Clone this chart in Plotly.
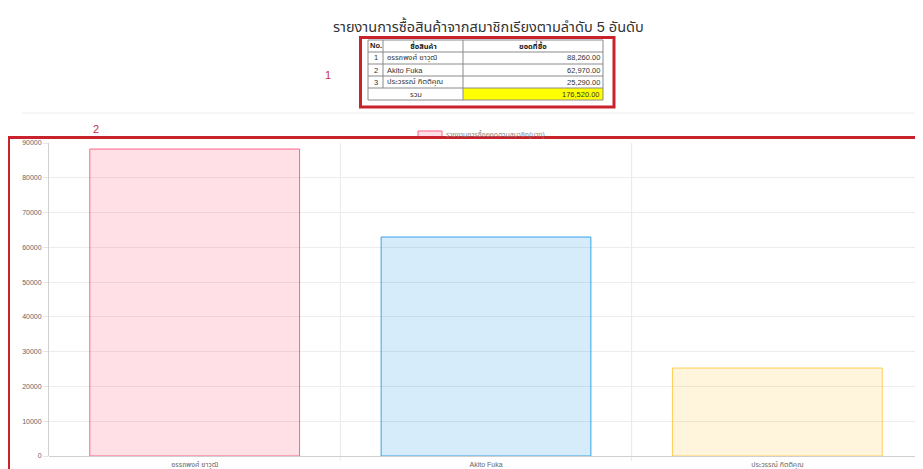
import plotly.graph_objects as go

# ---- data ----
title_text = "รายงานการซื้อสินค้าจากสมาชิกเรียงตามลำดับ 5 อันดับ"
series_name = "รายงานการซื้อยอดตามสมาชิก(บาท)"
ranks = [1, 2, 3]
members = ["อรรถพงศ์ ยาวุฒิ", "Akito Fuka", "ประวรรณ์ กิตติคุณ"]
amounts = [88260, 62970, 25290]
y_ticks = [0, 10000, 20000, 30000, 40000, 50000, 60000, 70000, 80000, 90000]
table_headers = ["No.", "ชื่อสินค้า", "ยอดที่ซื้อ"]
total_label = "รวม"

fill_colors = ["rgba(255,99,132,0.2)", "rgba(54,162,235,0.2)", "rgba(255,206,86,0.2)"]
line_colors = ["rgba(255,99,132,1)", "rgba(54,162,235,1)", "rgba(255,206,86,1)"]

# page is 923x469; the html body has an 8px margin, so the figure is 915x461
OFF = 8
W, H = 923 - OFF, 469 - OFF
FONT = "Arial, 'Liberation Sans', 'Noto Sans Thai', sans-serif"
RED = "rgb(200,35,45)"


def px(x):
    return (x - OFF) / W


def py(y):
    return 1 - (y - OFF) / H


def note(text, x, y, size, color="#222", xanchor="center"):
    return dict(text=text, xref="paper", yref="paper", x=px(x), y=py(y),
                xanchor=xanchor, yanchor="middle", showarrow=False,
                font=dict(family=FONT, size=size, color=color))


fig = go.Figure()

fig.add_trace(go.Bar(
    x=members, y=amounts, name=series_name, width=0.72,
    marker=dict(color=fill_colors, line=dict(color=line_colors, width=1)),
    showlegend=False, hoverinfo="x+y",
))

shapes = []
annotations = []

# ---- summary table (drawn as layout shapes/text from the data lists) ----
col_edges = [368, 383, 463, 603]
row_h = 12
t_top = 40
n_rows = len(members) + 2
row_edges = [t_top + i * row_h for i in range(n_rows + 1)]
total = sum(amounts)
line_style = dict(color="#8a8a8a", width=1)

shapes.append(dict(type="rect", xref="paper", yref="paper",
                   x0=px(col_edges[2]), x1=px(col_edges[3]),
                   y0=py(row_edges[-1]), y1=py(row_edges[-2]),
                   fillcolor="#ffff00", line=dict(width=0), layer="below"))
for yy in row_edges:
    shapes.append(dict(type="line", xref="paper", yref="paper", x0=px(col_edges[0]),
                       x1=px(col_edges[-1]), y0=py(yy), y1=py(yy), line=line_style))
for i, xx in enumerate(col_edges):
    y_end = row_edges[-2] if i == 1 else row_edges[-1]
    shapes.append(dict(type="line", xref="paper", yref="paper", x0=px(xx), x1=px(xx),
                       y0=py(row_edges[0]), y1=py(y_end), line=line_style))

TS = 7.5
for j, h in enumerate(table_headers):
    annotations.append(note(f"<b>{h}</b>", (col_edges[j] + col_edges[j + 1]) / 2,
                            (row_edges[0] + row_edges[1]) / 2, TS))
for i, (r, m, a) in enumerate(zip(ranks, members, amounts)):
    yc = (row_edges[i + 1] + row_edges[i + 2]) / 2
    annotations.append(note(str(r), (col_edges[0] + col_edges[1]) / 2, yc, TS, "#333"))
    annotations.append(note(m, col_edges[1] + 2, yc, TS, "#333", "left"))
    annotations.append(note(f"{a:,.2f}", col_edges[3] - 1, yc, TS, "#333", "right"))
yc = (row_edges[-2] + row_edges[-1]) / 2
annotations.append(note(total_label, (col_edges[0] + col_edges[2]) / 2, yc, TS, "#333"))
annotations.append(note(f"{total:,.2f}", col_edges[3] - 1, yc, TS, "#333", "right"))

# category boundary grid lines
for b in [0.5, 1.5]:
    shapes.append(dict(type="line", xref="x", yref="paper", x0=b, x1=b,
                       y0=py(461), y1=py(143), line=dict(color="#e8e8e8", width=1),
                       layer="below"))
# separator line
shapes.append(dict(type="line", xref="paper", yref="paper", x0=px(22), x1=1,
                   y0=py(113), y1=py(113), line=dict(color="#eeeeee", width=1)))
# legend box
shapes.append(dict(type="rect", xref="paper", yref="paper", x0=px(418), x1=px(442),
                   y0=py(137), y1=py(131), fillcolor=fill_colors[0],
                   line=dict(color=line_colors[0], width=1)))
# red annotation boxes
shapes.append(dict(type="rect", xref="paper", yref="paper", x0=px(360.5), x1=px(614),
                   y0=py(107), y1=py(37.5), line=dict(color=RED, width=3)))
shapes.append(dict(type="rect", xref="paper", yref="paper", x0=px(8.5), x1=px(935),
                   y0=py(470.5), y1=py(137.5), line=dict(color=RED, width=3)))

annotations += [
    note(title_text, 488, 26.5, 14.5, "#333"),
    note("1", 328, 75, 11, "#c8323a"),
    note("2", 96, 129.5, 11, "#c8323a"),
    note(series_name, 444, 134, 7, "#888", "left"),
]

fig.update_layout(
    template="none",
    width=W, height=H, autosize=False,
    margin=dict(l=0, r=0, t=0, b=0, pad=0),
    paper_bgcolor="white", plot_bgcolor="white",
    shapes=shapes, annotations=annotations,
    showlegend=False,
    xaxis=dict(domain=[px(49), 1], range=[-0.5, 2.5], showgrid=False, automargin=False,
               showline=False, zeroline=False, ticklabelstandoff=3,
               tickfont=dict(family=FONT, size=7, color="#666"), ticks="", ticklen=0),
    yaxis=dict(domain=[py(456), py(143)], range=[0, 90000], tickvals=y_ticks,
               tickformat="d", automargin=False,
               showgrid=True, gridcolor="#ececec", gridwidth=1,
               zeroline=True, zerolinecolor="#cfcfcf", zerolinewidth=1,
               showline=True, linecolor="#d0d0d0", linewidth=1,
               ticks="outside", ticklen=5, tickcolor="#e6e6e6",
               tickfont=dict(family=FONT, size=7, color="#666")),
)

fig.write_html("out.html")
